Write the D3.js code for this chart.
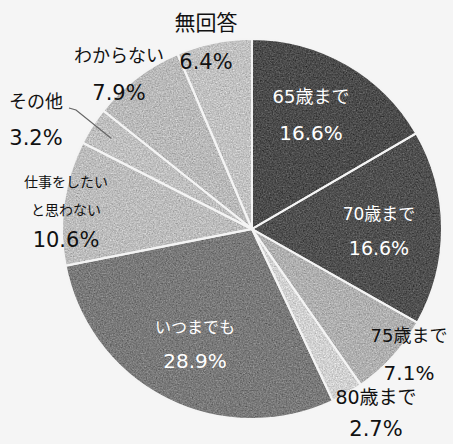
<!DOCTYPE html>
<html>
<head>
<meta charset="utf-8">
<script src="https://cdn.jsdelivr.net/npm/d3@7"></script>
<style>
  html, body { margin: 0; padding: 0; background: #f5f5f5; }
  svg { display: block; }
  text { font-family: "DejaVu Sans", "Noto Sans CJK JP", sans-serif; }
</style>
</head>
<body>
<svg id="chart" width="453" height="444"></svg>
<script>
// Shares of respondents by the age they would like to keep working until (%)
const categories = ["65歳まで", "70歳まで", "75歳まで", "80歳まで", "いつまでも",
                    "仕事をしたいと思わない", "その他", "わからない", "無回答"];
const values = [16.6, 16.6, 7.1, 2.7, 28.9, 10.6, 3.2, 7.9, 6.4];
const fills = ["#4c4c4c", "#505050", "#b0b0b0", "#d2d2d2", "#7a7a7a",
               "#bdbdbd", "#c0c0c0", "#bababa", "#c2c2c2"];

const svg = d3.select("#chart");
const cx = 252, cy = 229, radius = 190;

// grainy print texture over the slices (zero-mean grey noise)
const defs = svg.append("defs");
const grain = defs.append("filter").attr("id", "grain")
  .attr("x", 0).attr("y", 0).attr("width", 1).attr("height", 1)
  .attr("color-interpolation-filters", "sRGB");
grain.append("feTurbulence").attr("type", "fractalNoise")
  .attr("baseFrequency", 0.7).attr("numOctaves", 2).attr("seed", 4).attr("result", "noise");
grain.append("feColorMatrix").attr("in", "noise").attr("type", "matrix")
  .attr("values", "0.33 0.33 0.33 0 0  0.33 0.33 0.33 0 0  0.33 0.33 0.33 0 0  0 0 0 0 1")
  .attr("result", "gray");
grain.append("feComposite").attr("in", "SourceGraphic").attr("in2", "gray")
  .attr("operator", "arithmetic").attr("k1", 0).attr("k2", 1).attr("k3", 0.6).attr("k4", -0.3)
  .attr("result", "mix");
grain.append("feComposite").attr("in", "mix").attr("in2", "SourceGraphic").attr("operator", "in");

const pie = d3.pie().sort(null).value(d => d)
  .startAngle(0).endAngle(2 * Math.PI);
const arcs = pie(values);
const arc = d3.arc().innerRadius(0).outerRadius(radius);

const g = svg.append("g").attr("transform", `translate(${cx},${cy})`);
g.selectAll("path.slice")
  .data(arcs)
  .join("path")
  .attr("class", "slice")
  .attr("d", arc)
  .attr("fill", (d, i) => fills[i])
  .attr("filter", "url(#grain)");
// white separators between slices
g.selectAll("path.sep")
  .data(arcs)
  .join("path")
  .attr("class", "sep")
  .attr("d", arc)
  .attr("fill", "none")
  .attr("stroke", "#f4f4f4")
  .attr("stroke-width", 2);

// label placement: [x, y of name line, y of value line, colour, name size, value size]
const labelPos = [
  [311, 96, 133, "#ffffff", 18, 20],
  [379, 214, 248, "#ffffff", 17, 19],
  [409, 335, 373, "#111111", 18, 20],
  [376, 397, 429, "#111111", 19, 21],
  [195, 327, 361, "#ffffff", 16, 20],
  [66, 182, 240, "#111111", 14, 21],
  [36, 101, 138, "#111111", 18, 21],
  [119, 55, 93, "#111111", 18, 21],
  [206, 23, 62, "#111111", 21, 21]
];
const fmt = v => v.toFixed(1) + "%";

const labels = svg.append("g");
function addText(x, y, size, col, str) {
  labels.append("text").attr("x", x).attr("y", y).attr("text-anchor", "middle")
    .attr("dominant-baseline", "central").attr("font-size", size).attr("fill", col).text(str);
}
arcs.forEach((a, i) => {
  const [x, y1, y2, col, fsName, fsVal] = labelPos[i];
  const name = categories[i];
  if (name === "仕事をしたいと思わない") {
    addText(x, y1, fsName, col, "仕事をしたい");
    addText(x, y1 + 28, fsName, col, "と思わない");
  } else {
    addText(x, y1, fsName, col, name);
  }
  addText(x, y2, fsVal, col, fmt(a.value));
});

// leader line for the narrow その他 slice
const other = arcs[6];
const mid = (other.startAngle + other.endAngle) / 2;
const tip = [cx + Math.sin(mid) * radius * 0.88, cy - Math.cos(mid) * radius * 0.88];
svg.append("path")
  .attr("d", `M69,108 L76,110 L${tip[0]},${tip[1]}`)
  .attr("fill", "none").attr("stroke", "#666").attr("stroke-width", 1.2);
</script>
</body>
</html>
